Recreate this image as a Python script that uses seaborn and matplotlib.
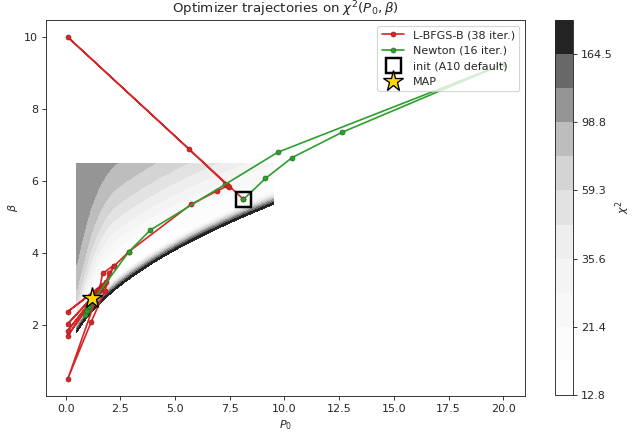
import numpy as np
import matplotlib
matplotlib.use("Agg")
import matplotlib.pyplot as plt
import seaborn as sns

# ---------------- trajectory data ----------------
LBFGS_P0 = [8.13, 0.10, 5.65, 7.30, 7.48, 7.38, 7.42, 6.94, 5.73, 2.90,
            2.22, 2.00, 1.84, 0.10, 1.70, 0.10, 1.62, 0.10, 1.55, 0.10,
            1.52, 0.10, 1.16, 1.78, 2.19, 1.69, 1.54, 1.45, 1.35, 1.28,
            1.24, 1.21, 1.20, 1.19, 1.19, 1.19, 1.19, 1.19, 1.19]
LBFGS_BETA = [5.49, 10.00, 6.88, 5.93, 5.84, 5.89, 5.87, 5.73, 5.35, 4.04,
              3.64, 3.43, 3.20, 2.37, 3.10, 2.03, 3.02, 1.84, 2.97, 1.70,
              2.95, 0.50, 2.07, 2.93, 3.65, 3.43, 2.97, 2.88, 2.82, 2.78,
              2.76, 2.75, 2.74, 2.74, 2.74, 2.74, 2.74, 2.74, 2.74]

NEWTON_P0 = [8.13, 9.13, 10.35, 12.62, 20.00, 9.70, 3.88, 2.90, 1.00,
             0.88, 0.96, 1.05, 1.12, 1.16, 1.18, 1.19, 1.19]
NEWTON_BETA = [5.49, 6.07, 6.65, 7.35, 9.25, 6.80, 4.64, 4.04, 2.47,
               2.27, 2.39, 2.52, 2.62, 2.69, 2.72, 2.74, 2.74]

INIT_P0, INIT_BETA = 8.13, 5.49
MAP_P0, MAP_BETA = 1.19, 2.74

LBFGS_LABEL = "L-BFGS-B (38 iter.)"
NEWTON_LABEL = "Newton (16 iter.)"
INIT_LABEL = "init (A10 default)"
MAP_LABEL = "MAP"
TITLE = r"Optimizer trajectories on $\chi^2(P_0, \beta)$"
XLABEL = r"$P_0$"
YLABEL = r"$\beta$"
CBAR_LABEL = r"$\chi^2$"

# ---------------- chi^2 surface description ----------------
GRID_P0 = (0.5, 9.5)
GRID_BETA = (1.0, 6.5)
CHI2_MIN = 12.83
LEVEL_RATIO = 1.66573          # ratio between every second level
N_LEVELS = 12
VALLEY_SLOPE = 1.5             # beta_valley = b0 + slope * sqrt(P0)
KA_LO, KA_HI = 5.0, 1.5        # along-valley curvature
S_LO, S_HI = 100.0, 120.0      # saturation height above the valley
W_LO, W_HI = 0.88, 2.78        # saturation width
P0_LO, P0_HI = 0.48, 2.37
K_STEEP = 1350.0               # steep side below the valley

RED, RED_EDGE = "#d62728", "#9e1b1c"
GREEN, GREEN_EDGE = "#2ca02c", "#1e6f1e"

sns.set_style("ticks")

DPI = 80
fig = plt.figure(figsize=(634 / DPI, 441 / DPI), dpi=DPI)
ax = fig.add_axes([46 / 634, 45 / 441, 479 / 634, 376 / 441])
cax = fig.add_axes([555 / 634, 46 / 441, 18 / 634, 375 / 441])

# chi^2 field
p0 = np.linspace(*GRID_P0, 260)
beta = np.linspace(*GRID_BETA, 260)
P, B = np.meshgrid(p0, beta)
d = np.log(P / MAP_P0)
along = np.where(d < 0, KA_LO, KA_HI) * d ** 2
b0 = MAP_BETA - VALLEY_SLOPE * np.sqrt(MAP_P0)
u = B - (b0 + VALLEY_SLOPE * np.sqrt(P))
t = np.clip((np.log(P) - np.log(P0_LO)) / (np.log(P0_HI) - np.log(P0_LO)), 0, 1)
t = t * t * (3 - 2 * t)
S = S_LO + (S_HI - S_LO) * t
W = W_LO + (W_HI - W_LO) * t
pw = 1.0 + t
upper = S * (1 - np.exp(-(np.clip(u, 0, None) / W) ** pw))
lower = K_STEEP * np.clip(u, None, 0) ** 2
chi2 = CHI2_MIN + along + upper + lower

LEVELS = CHI2_MIN * LEVEL_RATIO ** (np.arange(N_LEVELS) / 2.0)
cf = ax.contourf(P, B, chi2, levels=LEVELS, cmap="Greys", zorder=1)

# trajectories
sns.lineplot(x=LBFGS_P0, y=LBFGS_BETA, sort=False, estimator=None, ax=ax,
             color=RED, lw=1.5, marker="o", ms=4.5, mec=RED_EDGE, mew=0.6,
             label=LBFGS_LABEL, zorder=3)
sns.lineplot(x=NEWTON_P0, y=NEWTON_BETA, sort=False, estimator=None, ax=ax,
             color=GREEN, lw=1.5, marker="o", ms=4.5, mec=GREEN_EDGE, mew=0.6,
             label=NEWTON_LABEL, zorder=3)
ax.plot([INIT_P0], [INIT_BETA], linestyle="none", marker="s", ms=13.5,
        mfc="none", mec="black", mew=2.2, label=INIT_LABEL, zorder=4)
ax.plot([MAP_P0], [MAP_BETA], linestyle="none", marker="*", ms=19,
        mfc="gold", mec="black", mew=1.2, label=MAP_LABEL, zorder=5)

ax.set_title(TITLE)
ax.set_xlabel(XLABEL)
ax.set_ylabel(YLABEL)
ax.legend(loc="upper right")

cbar = fig.colorbar(cf, cax=cax)
ticks = LEVELS[::2]
cbar.set_ticks(ticks)
cbar.set_ticklabels([f"{v:.1f}" for v in ticks])
cbar.set_label(CBAR_LABEL, labelpad=1)

fig.savefig("out.png", dpi=DPI)
